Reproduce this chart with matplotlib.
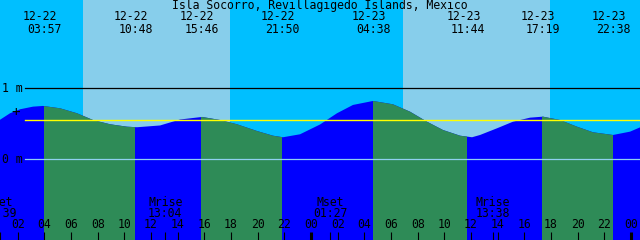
# Tide graph for Isla Socorro, Revillagigedo Islands (XTide-like look)
import numpy as np
import matplotlib
matplotlib.use("Agg")
import matplotlib.pyplot as plt
from matplotlib.patches import Polygon

# ---- data ----
title = "Isla Socorro, Revillagigedo Islands, Mexico"

# tide curve samples: hours since 12-22 00:00, height in metres
tide_hours = [0.65, 1.43, 2.18, 3.15, 3.9, 5.18, 6.45, 7.65, 8.93, 10.2, 10.95,
              12.68, 14.18, 15.83, 17.18, 18.45, 19.95, 21.15, 21.9, 23.18,
              24.68, 25.95, 27.15, 28.65, 30.15, 31.43, 32.7, 33.9, 35.18,
              36.08, 36.68, 37.95, 39.15, 40.43, 41.4, 42.68, 43.95, 45.15,
              46.65, 47.93, 48.7]
tide_m = [0.556, 0.651, 0.707, 0.744, 0.754, 0.721, 0.651, 0.556, 0.496, 0.462,
          0.454, 0.479, 0.563, 0.599, 0.556, 0.496, 0.401, 0.335, 0.313, 0.355,
          0.493, 0.651, 0.768, 0.824, 0.777, 0.673, 0.532, 0.415, 0.335,
          0.313, 0.345, 0.439, 0.532, 0.589, 0.603, 0.556, 0.462, 0.383,
          0.345, 0.392, 0.454]

# high / low tide events
event_dates = ["12-22", "12-22", "12-22", "12-22", "12-23", "12-23", "12-23", "12-23"]
event_times = ["03:57", "10:48", "15:46", "21:50", "04:38", "11:44", "17:19", "22:38"]
event_kind = ["high", "low", "high", "low", "high", "low", "high", "low"]

# sunrise / sunset
sun_dates = ["12-22", "12-22", "12-23", "12-23"]
sun_times = ["06:54", "17:56", "06:54", "17:56"]

# moon events
moon_names = ["Mset", "Mrise", "Mset", "Mrise"]
moon_dates = ["12-22", "12-22", "12-23", "12-23"]
moon_times = ["00:39", "13:04", "01:27", "13:38"]

mean_level = 0.55
t_start, t_end = 0.675, 48.675
y_bot, y_top = -1.134, 2.246

day_col = "#87CEEB"
night_col = "#00BFFF"
flood_col = "#0000FF"
ebb_col = "#2E8B57"


def hrs(date, hhmm):
    h, m = hhmm.split(":")
    return (int(date[-2:]) - 22) * 24 + int(h) + int(m) / 60.0


plt.rcParams['font.family'] = ['DejaVu Sans Mono']
fs = 8.3

fig = plt.figure(figsize=(6.4, 2.4), dpi=100)
ax = fig.add_axes([0, 0, 1, 1])
ax.set_xlim(t_start, t_end)
ax.set_ylim(y_bot, y_top)
ax.axis("off")

# sky: night / day bands
sun = [hrs(d, t) for d, t in zip(sun_dates, sun_times)]
edges = [t_start] + sun + [t_end]
for i in range(len(edges) - 1):
    ax.axvspan(edges[i], edges[i + 1], color=night_col if i % 2 == 0 else day_col,
               lw=0, zorder=0)

# water under the curve
verts = list(zip(tide_hours, tide_m)) + [(tide_hours[-1], y_bot - 1), (tide_hours[0], y_bot - 1)]
water = Polygon(verts, closed=True, fc=flood_col, ec="none", zorder=1)
ax.add_patch(water)

ev = [hrs(d, t) for d, t in zip(event_dates, event_times)]
for i, k in enumerate(event_kind):
    if k == "high":
        b = ev[i + 1] if i + 1 < len(ev) else t_end
        span = ax.axvspan(ev[i], b, color=ebb_col, lw=0, zorder=2)
        span.set_clip_path(water)

# level lines
ax.axhline(1.0, xmin=25 / 640, color="black", lw=0.9, zorder=3)
ax.axhline(mean_level, xmin=25 / 640, color="yellow", lw=1.0, zorder=3)
ax.axhline(0.0, xmin=25 / 640, color="#8FD0F0", lw=0.9, zorder=3)
ax.text(2 / 640, 1.0, "1 m", transform=ax.get_yaxis_transform(), ha="left",
        va="center", fontsize=fs, zorder=4)
ax.text(2 / 640, 0.0, "0 m", transform=ax.get_yaxis_transform(), ha="left",
        va="center", fontsize=fs, zorder=4)
ax.text(16 / 640, 1 - 111.7 / 240, "+", transform=ax.transAxes, ha="center",
        va="center", fontsize=fs + 2, zorder=4)

# title and tide event labels
ax.text(0.5, 1 - 6 / 240, title, transform=ax.transAxes, ha="center",
        va="center", fontsize=fs, zorder=4)
for d, t, x in zip(event_dates, event_times, ev):
    ax.annotate(d, xy=(x, 1 - 16.7 / 240), xycoords=("data", "axes fraction"),
                xytext=(-4, 0), textcoords="offset pixels", ha="center",
                va="center", fontsize=fs, zorder=4)
    ax.annotate(t, xy=(x, 1 - 29.5 / 240), xycoords=("data", "axes fraction"),
                xytext=(0.5, 0), textcoords="offset pixels", ha="center",
                va="center", fontsize=fs, zorder=4)

# moon labels
xt = ax.get_xaxis_transform()
moon = [hrs(d, t) for d, t in zip(moon_dates, moon_times)]
for n, t, x in zip(moon_names, moon_times, moon):
    ax.text(x, 1 - 202 / 240, n, transform=xt, ha="center", va="center",
            fontsize=fs, zorder=4)
    ax.text(x, 1 - 213.5 / 240, t, transform=xt, ha="center", va="center",
            fontsize=fs, zorder=4)
ax.vlines(moon, 0, 8 / 240, transform=xt, color="black", lw=0.8, zorder=4)

# hour ticks along the bottom
hours = np.arange(2, 49, 2)
for h in hours:
    ax.text(h, 1 - 225 / 240, "%02d" % (h % 24), transform=xt, ha="center",
            va="center", fontsize=fs, zorder=4)
ax.vlines([h for h in hours if h % 24], 0, 8 / 240, transform=xt,
          color="black", lw=0.8, zorder=4)
ax.vlines([h for h in hours if h % 24 == 0], 0, 8 / 240, transform=xt,
          color="black", lw=2.2, zorder=4)

fig.savefig("out.png", dpi=100)
